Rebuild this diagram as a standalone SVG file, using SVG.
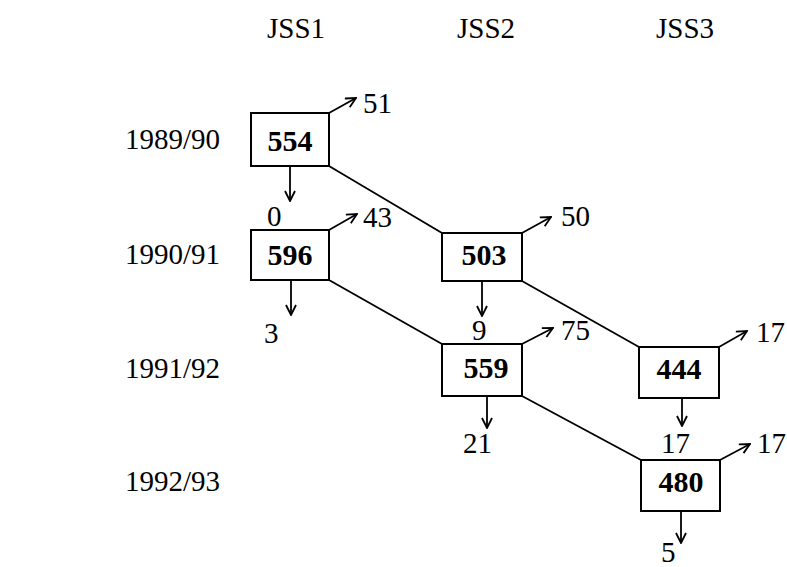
<svg xmlns="http://www.w3.org/2000/svg" width="787" height="567" viewBox="0 0 787 567" font-family="Liberation Serif, serif">
  <style>
    text { fill: #000; }
    .lbl { font-size: 29px; }
    .num { font-size: 29px; }
    .val { font-size: 30px; font-weight: bold; text-anchor: middle; }
    .box { fill: #fff; stroke: #000; stroke-width: 2; }
    .link { stroke: #000; stroke-width: 1.8; fill: none; }
    .out { stroke: #000; stroke-width: 1.8; fill: none; marker-end: url(#head); }
  </style>
  <defs>
    <marker id="head" viewBox="0 0 12 12" refX="11" refY="6" markerWidth="12" markerHeight="12" markerUnits="userSpaceOnUse" orient="auto">
      <path d="M1,1 L11,6 L1,11" fill="none" stroke="#000" stroke-width="1.8"/>
    </marker>
  </defs>

  <!-- column headings -->
  <g id="headings" font-family="Liberation Serif, serif">
    <text class="lbl" x="267" y="38">JSS1</text>
    <text class="lbl" x="457" y="38">JSS2</text>
    <text class="lbl" x="656" y="38">JSS3</text>
  </g>

  <!-- row headings -->
  <g id="years" font-family="Liberation Serif, serif">
    <text class="lbl" x="125" y="149">1989/90</text>
    <text class="lbl" x="125" y="264">1990/91</text>
    <text class="lbl" x="125" y="378">1991/92</text>
    <text class="lbl" x="125" y="491">1992/93</text>
  </g>

  <!-- promotion links between years -->
  <g id="connectors">
    <line class="link" x1="329" y1="166" x2="442" y2="233"/>
    <line class="link" x1="329" y1="280" x2="442" y2="344"/>
    <line class="link" x1="522" y1="281" x2="639" y2="347"/>
    <line class="link" x1="522" y1="396" x2="641" y2="460"/>

    <!-- drop-outs (up-right) and repeaters (down) -->
    <line class="out" x1="329" y1="113" x2="356" y2="98"/>
    <line class="out" x1="290" y1="166" x2="290" y2="201"/>
    <line class="out" x1="329" y1="230" x2="357" y2="214"/>
    <line class="out" x1="291" y1="280" x2="291" y2="315"/>
    <line class="out" x1="522" y1="233" x2="551" y2="217"/>
    <line class="out" x1="482" y1="281" x2="482" y2="316"/>
    <line class="out" x1="522" y1="344" x2="553" y2="328"/>
    <line class="out" x1="487" y1="396" x2="487" y2="428"/>
    <line class="out" x1="719" y1="347" x2="747" y2="331"/>
    <line class="out" x1="682" y1="398" x2="682" y2="426"/>
    <line class="out" x1="720" y1="460" x2="750" y2="444"/>
    <line class="out" x1="681" y1="511" x2="681" y2="543"/>
  </g>

  <g id="n554">
    <rect class="box" x="251" y="113" width="78" height="53"/>
    <text class="val" x="290" y="151">554</text>
    <text class="num" x="363" y="113">51</text>
    <text class="num" x="267" y="226">0</text>
  </g>

  <g id="n596">
    <rect class="box" x="251" y="230" width="78" height="50"/>
    <text class="val" x="290" y="265">596</text>
    <text class="num" x="363" y="227">43</text>
    <text class="num" x="264" y="343">3</text>
  </g>

  <g id="n503">
    <rect class="box" x="442" y="233" width="80" height="48"/>
    <text class="val" x="484" y="265">503</text>
    <text class="num" x="561" y="226">50</text>
    <text class="num" x="472" y="340">9</text>
  </g>

  <g id="n559">
    <rect class="box" x="442" y="344" width="80" height="52"/>
    <text class="val" x="486" y="378">559</text>
    <text class="num" x="561" y="340">75</text>
    <text class="num" x="463" y="453">21</text>
  </g>

  <g id="n444">
    <rect class="box" x="639" y="347" width="80" height="51"/>
    <text class="val" x="679" y="379">444</text>
    <text class="num" x="756" y="342">17</text>
  </g>

  <g id="n480">
    <rect class="box" x="641" y="460" width="79" height="51"/>
    <text class="val" x="681" y="492">480</text>
    <text class="num" x="661" y="453">17</text>
    <text class="num" x="757" y="453">17</text>
    <text class="num" x="661" y="562">5</text>
  </g>
</svg>
